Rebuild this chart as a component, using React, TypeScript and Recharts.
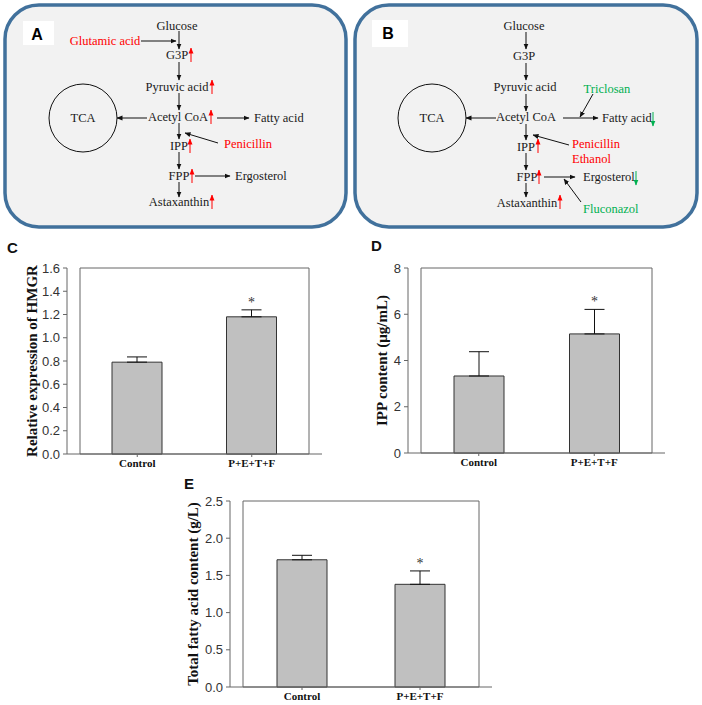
import { BarChart, Bar, XAxis, YAxis, ErrorBar, LabelList, ReferenceArea } from 'recharts';

const groups = ['Control', 'P+E+T+F'];
const sigMarks = ['', '*'];

const hmgrMean = [0.79, 1.18];
const hmgrErr = [0.045, 0.06];
const hmgrTicks = [0, 0.2, 0.4, 0.6, 0.8, 1.0, 1.2, 1.4, 1.6];

const ippMean = [3.33, 5.15];
const ippErr = [1.05, 1.06];
const ippTicks = [0, 2, 4, 6, 8];

const fattyMean = [1.71, 1.38];
const fattyErr = [0.06, 0.18];
const fattyTicks = [0, 0.5, 1.0, 1.5, 2.0, 2.5];

const RED = '#ff0000';
const GREEN = '#00b050';
const SERIF = '"Liberation Serif", "Times New Roman", serif';
const SANS = '"Liberation Sans", Arial, sans-serif';
const AXIS = '#666';

const rows = (mean: number[], err: number[]) =>
  groups.map((name, i) => ({ name, mean: mean[i], err: err[i], sig: sigMarks[i] }));

const AxisTitle = (props: any) => {
  const { viewBox, value, cx } = props;
  if (!viewBox) return null;
  const x = viewBox.x + cx;
  const y = viewBox.y + viewBox.height / 2;
  return (
    <text
      x={x}
      y={y}
      transform={`rotate(-90 ${x} ${y})`}
      textAnchor="middle"
      dominantBaseline="central"
      style={{ fontFamily: SERIF, fontWeight: 700, fontSize: 15, fill: '#111' }}
    >
      {value}
    </text>
  );
};

// asterisk sits just above the top of the error bar
const SigMark = (errs: number[], means: number[]) => (props: any) => {
  const { x, y, width, height, index, value } = props;
  if (!value) return null;
  const errPx = (errs[index] * height) / means[index];
  return (
    <text
      x={x + width / 2}
      y={y - errPx - 3}
      textAnchor="middle"
      style={{ fontFamily: SERIF, fontSize: 14, fill: '#333' }}
    >
      {value}
    </text>
  );
};

interface PanelProps {
  mean: number[];
  err: number[];
  ticks: number[];
  digits: number;
  title: string;
  titleX: number;
  left: number;
  top: number;
  width: number;
  height: number;
  axisW: number;
  marginTop: number;
  marginRight: number;
  xAxisH: number;
}

const BarPanel = (p: PanelProps) => {
  const data = rows(p.mean, p.err);
  const max = p.ticks[p.ticks.length - 1];
  return (
    <div style={{ position: 'absolute', left: p.left, top: p.top }}>
      <BarChart
        width={p.width}
        height={p.height}
        data={data}
        margin={{ top: p.marginTop, right: p.marginRight, left: 0, bottom: 0 }}
        style={{ overflow: 'visible' }}
      >
        <XAxis
          dataKey="name"
          height={p.xAxisH}
          padding={{ left: 13, right: 13 }}
          stroke={AXIS}
          tickSize={3}
          tick={{ fontFamily: SERIF, fontWeight: 700, fontSize: 11, fill: '#111' }}
        />
        <YAxis
          width={p.axisW}
          domain={[0, max]}
          ticks={p.ticks}
          tickFormatter={(v: number) => v.toFixed(p.digits)}
          stroke={AXIS}
          tickSize={4}
          tickMargin={3}
          tick={{ fontFamily: SANS, fontSize: 13, fill: '#333' }}
          label={<AxisTitle value={p.title} cx={p.titleX} />}
        />
        {/* plot frame */}
        <ReferenceArea
          y1={0}
          y2={max}
          fill="none"
          fillOpacity={0}
          stroke={AXIS}
          strokeOpacity={1}
          strokeWidth={1}
        />
        <Bar
          dataKey="mean"
          barSize={50}
          fill="#c0c0c0"
          stroke="#333"
          strokeWidth={1}
          isAnimationActive={false}
        >
          <ErrorBar
            dataKey={(d: any) => [0, d.err]}
            direction="y"
            width={10}
            stroke="#111"
            strokeWidth={1}
            isAnimationActive={false}
          />
          <LabelList dataKey="sig" content={SigMark(p.err, p.mean)} />
        </Bar>
      </BarChart>
    </div>
  );
};

const Arrow = ({ x1, y1, x2, y2, c = 'k' }: any) => (
  <line
    x1={x1}
    y1={y1}
    x2={x2}
    y2={y2}
    stroke={c === 'r' ? RED : c === 'g' ? GREEN : '#111'}
    strokeWidth={1}
    markerEnd={`url(#ah-${c})`}
  />
);

const T = ({ x, y, children, fill = '#1a1a1a', anchor = 'middle' }: any) => (
  <text
    x={x}
    y={y}
    textAnchor={anchor}
    dominantBaseline="central"
    style={{ fontFamily: SERIF, fontSize: 12.5, fill }}
  >
    {children}
  </text>
);

const Up = ({ x, y }: any) => <Arrow x1={x} y1={y + 7} x2={x} y2={y - 7} c="r" />;
const Down = ({ x, y }: any) => <Arrow x1={x} y1={y - 7} x2={x} y2={y + 7} c="g" />;

const Diagrams = () => (
  <svg width={702} height={705} style={{ position: 'absolute', left: 0, top: 0 }}>
    <defs>
      {[
        ['k', '#111'],
        ['r', RED],
        ['g', GREEN],
      ].map(([k, col]) => (
        <marker
          key={k}
          id={`ah-${k}`}
          markerWidth={6}
          markerHeight={6}
          refX={5.5}
          refY={3}
          orient="auto"
          markerUnits="userSpaceOnUse"
        >
          <path d="M0,0.5 L6,3 L0,5.5 z" fill={col} />
        </marker>
      ))}
    </defs>

    {/* panel A */}
    <rect x={5} y={5} width={341} height={222} rx={34} fill="#f2f2f2" stroke="#41719c" strokeWidth={3.5} />
    <rect x={23} y={21} width={31} height={24} fill="#fff" />
    <text x={37} y={34} textAnchor="middle" dominantBaseline="central" style={{ fontFamily: SANS, fontWeight: 700, fontSize: 16 }}>A</text>
    <T x={177} y={26}>Glucose</T>
    <T x={105} y={41} fill={RED}>Glutamic acid</T>
    <Arrow x1={141} y1={41} x2={176} y2={41} />
    <Arrow x1={179} y1={31} x2={179} y2={49} />
    <T x={177} y={55}>G3P</T>
    <Up x={191} y={55} />
    <Arrow x1={179} y1={62} x2={179} y2={80} />
    <T x={177} y={87}>Pyruvic acid</T>
    <Up x={212} y={87} />
    <Arrow x1={179} y1={93} x2={179} y2={110} />
    <T x={178} y={117}>Acetyl CoA</T>
    <Up x={211} y={117} />
    <Arrow x1={217} y1={118} x2={249} y2={118} />
    <T x={254} y={118} anchor="start">Fatty acid</T>
    <circle cx={83} cy={118} r={34} fill="none" stroke="#111" strokeWidth={1} />
    <T x={83} y={118}>TCA</T>
    <Arrow x1={147} y1={118} x2={117} y2={118} />
    <Arrow x1={179} y1={123} x2={179} y2={139} />
    <T x={179} y={146}>IPP</T>
    <Up x={190} y={146} />
    <T x={224} y={144} fill={RED} anchor="start">Penicillin</T>
    <Arrow x1={218} y1={143} x2={185} y2={133} />
    <Arrow x1={179} y1={152} x2={179} y2={169} />
    <T x={179} y={176}>FPP</T>
    <Up x={192} y={176} />
    <Arrow x1={195} y1={176} x2={230} y2={176} />
    <T x={235} y={176} anchor="start">Ergosterol</T>
    <Arrow x1={179} y1={182} x2={179} y2={197} />
    <T x={179} y={202}>Astaxanthin</T>
    <Up x={212} y={202} />

    {/* panel B */}
    <rect x={355} y={5} width={342} height={222} rx={34} fill="#f2f2f2" stroke="#41719c" strokeWidth={3.5} />
    <rect x={372} y={20} width={36} height={27} fill="#fff" />
    <text x={388} y={33} textAnchor="middle" dominantBaseline="central" style={{ fontFamily: SANS, fontWeight: 700, fontSize: 16 }}>B</text>
    <T x={524} y={26}>Glucose</T>
    <Arrow x1={526} y1={32} x2={526} y2={49} />
    <T x={524} y={56}>G3P</T>
    <Arrow x1={526} y1={63} x2={526} y2={80} />
    <T x={525} y={87}>Pyruvic acid</T>
    <Arrow x1={526} y1={94} x2={526} y2={111} />
    <T x={526} y={117}>Acetyl CoA</T>
    <circle cx={432} cy={118} r={34} fill="none" stroke="#111" strokeWidth={1} />
    <T x={432} y={118}>TCA</T>
    <Arrow x1={496} y1={118} x2={466} y2={118} />
    <Arrow x1={563} y1={118} x2={598} y2={118} />
    <T x={602} y={118} anchor="start">Fatty acid</T>
    <Down x={653} y={119} />
    <T x={607} y={89} fill={GREEN}>Triclosan</T>
    <Arrow x1={593} y1={94} x2={580} y2={117} />
    <Arrow x1={526} y1={124} x2={526} y2={140} />
    <T x={526} y={147}>IPP</T>
    <Up x={538} y={146} />
    <T x={572} y={144} fill={RED} anchor="start">Penicillin</T>
    <T x={572} y={159} fill={RED} anchor="start">Ethanol</T>
    <Arrow x1={569} y1={145} x2={533} y2={135} />
    <Arrow x1={526} y1={153} x2={526} y2={170} />
    <T x={527} y={177}>FPP</T>
    <Up x={539} y={177} />
    <Arrow x1={544} y1={177} x2={575} y2={177} />
    <T x={583} y={177} anchor="start">Ergosterol</T>
    <Down x={636} y={178} />
    <T x={583} y={209} fill={GREEN} anchor="start">Fluconazol</T>
    <Arrow x1={581} y1={202} x2={564} y2={179} />
    <Arrow x1={526} y1={183} x2={526} y2={197} />
    <T x={527} y={203}>Astaxanthin</T>
    <Up x={560} y={202} />

    {/* chart panel letters */}
    {[
      ['C', 7, 247],
      ['D', 371, 245],
      ['E', 184, 483],
    ].map(([l, x, y]) => (
      <text
        key={l as string}
        x={x as number}
        y={y as number}
        dominantBaseline="central"
        style={{ fontFamily: SANS, fontWeight: 700, fontSize: 15, fill: '#111' }}
      >
        {l}
      </text>
    ))}
  </svg>
);

export default function App() {
  return (
    <div style={{ position: 'absolute', left: 0, top: 0, width: 702, height: 705, background: '#fff' }}>
      <Diagrams />
      <BarPanel
        mean={hmgrMean}
        err={hmgrErr}
        ticks={hmgrTicks}
        digits={1}
        title="Relative expression of HMGR"
        titleX={32}
        left={0}
        top={250}
        width={340}
        height={230}
        axisW={67}
        marginTop={18}
        marginRight={18}
        xAxisH={26}
      />
      <BarPanel
        mean={ippMean}
        err={ippErr}
        ticks={ippTicks}
        digits={0}
        title="IPP content (μg/mL)"
        titleX={31}
        left={351}
        top={250}
        width={340}
        height={230}
        axisW={57}
        marginTop={18}
        marginRight={26}
        xAxisH={27}
      />
      <BarPanel
        mean={fattyMean}
        err={fattyErr}
        ticks={fattyTicks}
        digits={1}
        title="Total fatty acid content (g/L)"
        titleX={23}
        left={170}
        top={485}
        width={340}
        height={220}
        axisW={60}
        marginTop={16}
        marginRight={18}
        xAxisH={18}
      />
    </div>
  );
}
